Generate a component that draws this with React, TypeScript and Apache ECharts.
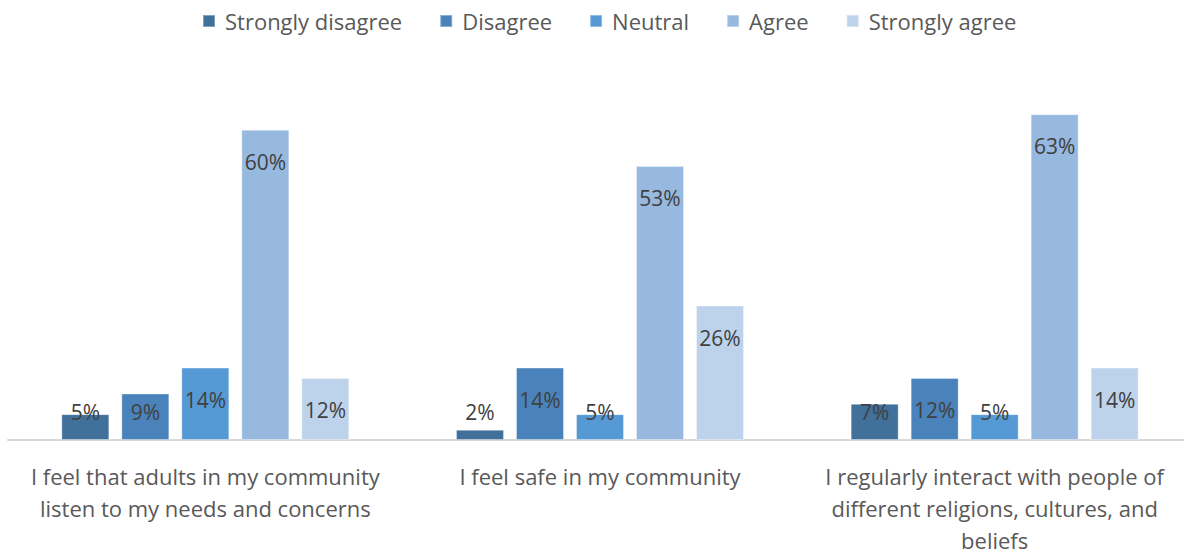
import React, { useEffect, useRef } from "react";
import * as echarts from "echarts";

const categories = [
  "I feel that adults in my community\nlisten to my needs and concerns",
  "I feel safe in my community",
  "I regularly interact with people of\ndifferent religions, cultures, and\nbeliefs",
];
const seriesNames = ["Strongly disagree", "Disagree", "Neutral", "Agree", "Strongly agree"];
const stronglyDisagree = [5, 2, 7];
const disagree = [9, 14, 12];
const neutral = [14, 5, 5];
const agree = [60, 53, 63];
const stronglyAgree = [12, 26, 14];
const colors = ["#41709B", "#4A83BB", "#5599D5", "#97B9DF", "#BDD3EC"];

export default function App() {
  const ref = useRef<HTMLDivElement>(null);
  useEffect(() => {
    const chart = echarts.init(ref.current!, null, { renderer: "svg" });
    const values = [stronglyDisagree, disagree, neutral, agree, stronglyAgree];
    const font = "Open Sans";
    chart.setOption({
      animation: false,
      textStyle: { fontFamily: font },
      legend: {
        top: 5,
        left: 197,
        itemWidth: 12,
        itemHeight: 12,
        itemGap: 37,
        icon: "rect",
        textStyle: { fontSize: 22, color: "#595959", fontFamily: font, padding: [0, 0, 0, 5] },
        data: seriesNames,
      },
      grid: { left: 8, width: 1184, top: 78, bottom: 114, containLabel: false },
      xAxis: {
        type: "category",
        data: categories,
        axisLine: { lineStyle: { color: "#D9D9D9", width: 2 } },
        axisTick: { show: false },
        axisLabel: {
          fontSize: 22,
          lineHeight: 32,
          color: "#595959",
          margin: 20,
          fontFamily: font,
          interval: 0,
        },
      },
      yAxis: {
        type: "value",
        min: 0,
        max: 70,
        show: false,
        splitLine: { show: false },
      },
      series: seriesNames.map((name, i) => ({
        name,
        type: "bar",
        data: values[i],
        barWidth: 48,
        barGap: "25%",
        itemStyle: {
          color: colors[i],
          borderColor: "rgba(255,255,255,0.35)",
          borderWidth: 1,
        },
        label: {
          show: true,
          position: "insideTop",
          formatter: "{c}%",
          fontSize: 21,
          color: "#404040",
          fontFamily: font,
        },
        labelLayout: (p: any) => ({
          x: p.rect.x + p.rect.width / 2,
          y: Math.min(p.rect.y + 32, p.rect.y + p.rect.height - 28),
          align: "center",
          verticalAlign: "middle",
        }),
      })),
    });
    return () => chart.dispose();
  }, []);
  return (
    <div style={{ position: "fixed", left: 0, top: 0, width: 1184, height: 556, overflow: "hidden", background: "#fff" }}>
      <div ref={ref} style={{ width: 1200, height: 556 }} />
    </div>
  );
}
